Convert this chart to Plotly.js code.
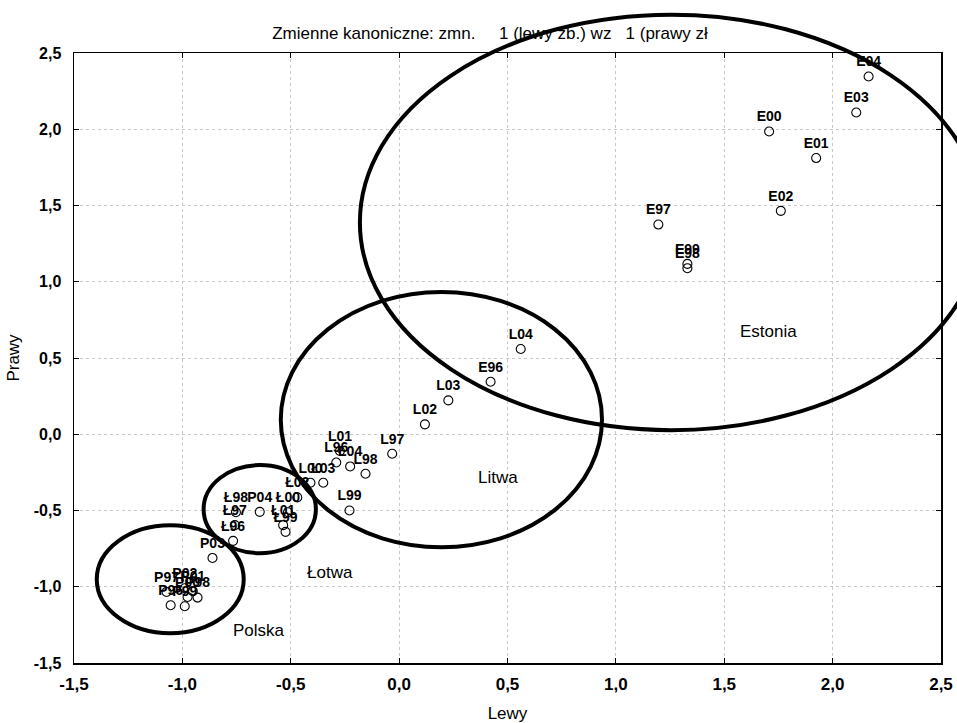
<!DOCTYPE html>
<html>
<head>
<meta charset="utf-8">
<script src="https://cdn.plot.ly/plotly-3.0.1.min.js"></script>
<style>html,body{margin:0;padding:0;background:#fff;}#chart{width:957px;height:723px;}</style>
</head>
<body>
<div id="chart"></div>
<script>
// ---- data ----
const estLabels = ['E96','E97','E98','E99','E00','E01','E02','E03','E04'];
const estX = [0.422, 1.196, 1.330, 1.330, 1.707, 1.924, 1.761, 2.109, 2.166];
const estY = [0.344, 1.375, 1.089, 1.117, 1.985, 1.811, 1.465, 2.110, 2.346];

const litLabels = ['L96','L97','L98','L99','L00','L01','L02','L03','L04'];
const litX = [-0.290, -0.032, -0.155, -0.229, -0.409, -0.273, 0.119, 0.227, 0.561];
const litY = [-0.185, -0.128, -0.259, -0.500, -0.318, -0.110, 0.065, 0.222, 0.559];

const lotLabels = ['Ł96','Ł97','Ł98','Ł99','Ł00','Ł01','Ł02','Ł03','Ł04'];
const lotX = [-0.766, -0.758, -0.753, -0.524, -0.513, -0.535, -0.470, -0.350, -0.226];
const lotY = [-0.699, -0.596, -0.511, -0.640, -0.511, -0.596, -0.414, -0.318, -0.211];

const polLabels = ['P96','P97','P98','P99','P00','P01','P02','P03','P04'];
const polX = [-1.054, -1.073, -0.930, -0.989, -0.976, -0.952, -0.989, -0.861, -0.643];
const polY = [-1.121, -1.034, -1.071, -1.128, -1.067, -1.029, -1.010, -0.811, -0.509];

// group ellipses (center x, center y, radius x, radius y) in data units
const groupNames = ['Estonia', 'Litwa', 'Łotwa', 'Polska'];
const ellipseCX = [1.255, 0.195, -0.643, -1.056];
const ellipseCY = [1.389, 0.096, -0.491, -0.951];
const ellipseRX = [1.436, 0.741, 0.259, 0.339];
const ellipseRY = [1.362, 0.837, 0.289, 0.354];
const groupLabelX = [1.703, 0.456, -0.319, -0.647];
const groupLabelY = [0.671, -0.281, -0.905, -1.285];

const tickVals = [-1.5, -1.0, -0.5, 0.0, 0.5, 1.0, 1.5, 2.0, 2.5];
const tickText = ['-1,5','-1,0','-0,5','0,0','0,5','1,0','1,5','2,0','2,5'];

const titleText = 'Zmienne kanoniczne: zmn.\u00a0\u00a0\u00a0\u00a0\u00a01 (lewy zb.) wz\u00a0\u00a0\u00a01 (prawy zł';

// ---- chart ----
const xRange = [-1.5, 2.5];
const yRange = [-1.5, 2.5];
const SANS = 'Liberation Sans, Arial, sans-serif';
const NARROW = 'Liberation Sans Narrow, Liberation Sans, Arial, sans-serif';

function mkTrace(xs, ys, labels) {
  return {
    type: 'scatter', mode: 'markers+text', x: xs, y: ys, text: labels,
    textposition: 'top center',
    textfont: {family: SANS, size: 14, color: '#000', weight: 'bold'},
    marker: {symbol: 'circle-open', size: 9, color: '#000', line: {width: 1.1, color: '#000'}},
    cliponaxis: false, hoverinfo: 'skip', showlegend: false
  };
}

const traces = [
  mkTrace(polX, polY, polLabels),
  mkTrace(lotX, lotY, lotLabels),
  mkTrace(litX, litY, litLabels),
  mkTrace(estX, estY, estLabels)
];

const shapes = groupNames.map((g, i) => ({
  type: 'circle', xref: 'paper', yref: 'paper', layer: 'above',
  x0: (ellipseCX[i] - ellipseRX[i] - xRange[0]) / (xRange[1] - xRange[0]),
  x1: (ellipseCX[i] + ellipseRX[i] - xRange[0]) / (xRange[1] - xRange[0]),
  y0: (ellipseCY[i] - ellipseRY[i] - yRange[0]) / (yRange[1] - yRange[0]),
  y1: (ellipseCY[i] + ellipseRY[i] - yRange[0]) / (yRange[1] - yRange[0]),
  line: {color: '#000', width: 4}
}));

const annotations = groupNames.map((g, i) => ({
  x: groupLabelX[i], y: groupLabelY[i], xref: 'x', yref: 'y', text: g,
  showarrow: false, font: {family: SANS, size: 17, color: '#000'}
}));

const layout = {
  width: 957, height: 723,
  paper_bgcolor: '#fff', plot_bgcolor: '#fff',
  margin: {l: 74, r: 16, t: 53, b: 60, pad: 0},
  separators: ', ',
  showlegend: false,
  title: {
    text: titleText, xref: 'container', yref: 'container',
    x: 490/957, xanchor: 'center', y: 1 - 33/723, yanchor: 'middle',
    font: {family: SANS, size: 17, color: '#000'}
  },
  xaxis: {
    range: xRange, tickvals: tickVals, ticktext: tickText,
    showgrid: true, gridcolor: '#c8c8c8', griddash: 'dot', gridwidth: 1,
    zeroline: false, showline: true, linecolor: '#000', linewidth: 1.5, mirror: 'ticks',
    ticks: 'inside', ticklen: 5, tickcolor: '#000', tickwidth: 1,
    ticklabelstandoff: 5,
    tickfont: {family: NARROW, size: 17, color: '#000', weight: 'bold'},
    title: {text: 'Lewy', standoff: 16, font: {family: NARROW, size: 17, color: '#000'}}
  },
  yaxis: {
    range: yRange, tickvals: tickVals, ticktext: tickText,
    showgrid: true, gridcolor: '#c8c8c8', griddash: 'dot', gridwidth: 1,
    zeroline: false, showline: true, linecolor: '#000', linewidth: 1.5, mirror: 'ticks',
    ticks: 'inside', ticklen: 5, tickcolor: '#000', tickwidth: 1,
    ticklabelstandoff: 8,
    tickfont: {family: SANS, size: 16, color: '#000', weight: 'bold'},
    title: {text: 'Prawy', standoff: 10, font: {family: NARROW, size: 17, color: '#000'}}
  },
  shapes: shapes,
  annotations: annotations
};

Plotly.newPlot('chart', traces, layout, {staticPlot: true, displayModeBar: false});
</script>
</body>
</html>
